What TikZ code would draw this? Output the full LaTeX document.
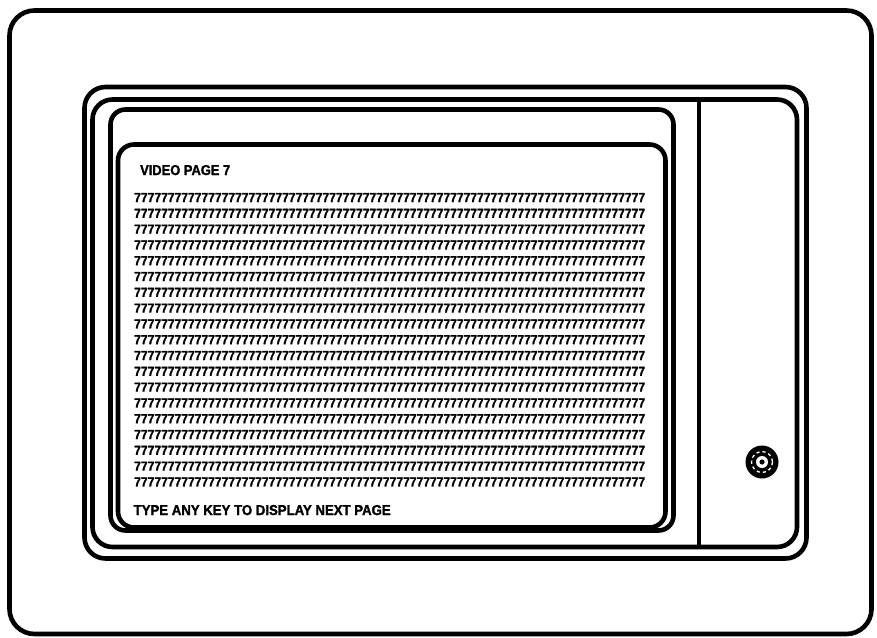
\documentclass[tikz,border=0pt]{standalone}
\usepackage{fontspec}
\setmainfont{Liberation Sans}
\newfontfamily\heavyfont[FakeBold=1.6]{Liberation Sans Bold}
\usepackage{graphicx}
\tikzset{
  frame/.style={draw=black, line width=4.6pt},
  label/.style={inner sep=0pt, anchor=base west, font=\heavyfont},
}
\newcommand{\sevens}{7777777777777777777777777777777777777777777777777777777777777777777777777777}
\begin{document}
\begin{tikzpicture}[x=1pt,y=-1pt]
\useasboundingbox[fill=white] (0,0) rectangle (877,637);
% housing
\draw[frame, rounded corners=25pt] (9.5,10.5) rectangle (871.5,634);
% monitor bezels
\draw[frame, rounded corners=21pt] (84.5,87) rectangle (806.5,558.5);
\draw[frame, rounded corners=20pt] (92.5,99.5) rectangle (797,547);
\draw[frame] (699,99.5) -- (699,547);
% screen bezel and screen
\draw[frame, rounded corners=15pt] (110.5,109.5) rectangle (673.5,530.5);
\draw[frame, rounded corners=16pt] (118,144.5) rectangle (665.5,527.5);
% texts
\node[label] (title) at (140,175) {\resizebox{90pt}{10pt}{VIDEO PAGE 7}};
\foreach \i in {0,...,18}{
  \node[label] (row\i) at (134,{202+15.8*\i}) {\resizebox{511pt}{9pt}{\sevens}};
}
\node[label] (prompt) at (133.5,515) {\resizebox{257pt}{10pt}{TYPE ANY KEY TO DISPLAY NEXT PAGE}};
% knob
\fill[black] (762,462) circle (16.5);
\draw[white, line width=1.3pt, dash pattern=on 3.2pt off 3pt] (762,462) circle (10.5);
\fill[white] (762,462) circle (6);
\fill[black] (762,462) circle (2.6);
\end{tikzpicture}
\end{document}
